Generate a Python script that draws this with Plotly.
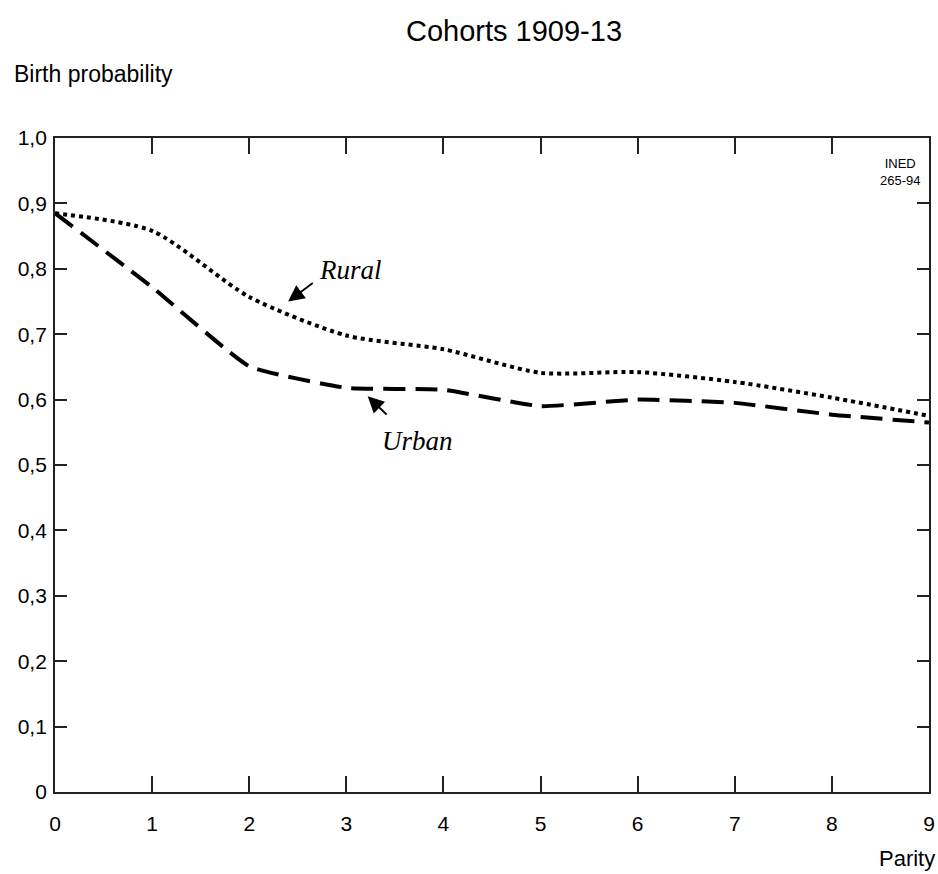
import plotly.graph_objects as go

parity = [0, 1, 2, 3, 4, 5, 6, 7, 8, 9]
rural = [0.885, 0.858, 0.757, 0.698, 0.677, 0.641, 0.642, 0.627, 0.603, 0.575]
urban = [0.885, 0.772, 0.651, 0.618, 0.615, 0.590, 0.600, 0.595, 0.577, 0.565]

y_ticks = [0, 0.1, 0.2, 0.3, 0.4, 0.5, 0.6, 0.7, 0.8, 0.9, 1.0]
y_labels = ["0", "0,1", "0,2", "0,3", "0,4", "0,5", "0,6", "0,7", "0,8", "0,9", "1,0"]
x_ticks = parity
x_labels = [str(p) for p in parity]

SANS = "Liberation Sans, Arial, sans-serif"
SERIF = "Liberation Serif, Times New Roman, serif"

fig = go.Figure()
fig.add_trace(go.Scatter(x=parity, y=rural, mode="lines", name="Rural",
                         line=dict(color="black", width=4, dash="4px,4px",
                                   shape="spline", smoothing=0.7)))
fig.add_trace(go.Scatter(x=parity, y=urban, mode="lines", name="Urban",
                         line=dict(color="black", width=4, dash="22px,10px",
                                   shape="spline", smoothing=0.4)))

font_tick = dict(family=SANS, size=21, color="black")

fig.update_layout(
    width=938, height=874,
    margin=dict(l=55, r=3, t=138, b=82),
    paper_bgcolor="white", plot_bgcolor="white",
    showlegend=False,
    xaxis=dict(range=[0, 9], tickvals=x_ticks, ticktext=x_labels,
               ticks="inside", ticklen=16, tickwidth=1.5, tickcolor="#222",
               showline=True, linecolor="#222", linewidth=1.8, mirror="ticks",
               showgrid=False, zeroline=False, tickfont=font_tick,
               ticklabelstandoff=12, ticklabeloverflow="allow"),
    yaxis=dict(range=[0, 1.0], tickvals=y_ticks, ticktext=y_labels,
               ticks="inside", ticklen=12, tickwidth=1.5, tickcolor="#222",
               showline=True, linecolor="#222", linewidth=1.8, mirror="ticks",
               showgrid=False, zeroline=False, tickfont=font_tick,
               ticklabelstandoff=2),
    annotations=[
        dict(text="Cohorts 1909-13", xref="paper", yref="paper", x=0.525, y=1.0,
             yshift=107, xanchor="center", yanchor="middle", showarrow=False,
             font=dict(family=SANS, size=29, color="black")),
        dict(text="Birth probability", xref="paper", yref="paper", x=-0.049, y=1.0,
             yshift=64, xanchor="left", yanchor="middle", showarrow=False,
             font=dict(family=SANS, size=23, color="black")),
        dict(text="Parity", xref="paper", yref="paper", x=1.0, y=0.0,
             xshift=8, yshift=-66, xanchor="right", yanchor="middle", showarrow=False,
             font=dict(family=SANS, size=22, color="black")),
        dict(text="INED<br>265-94", xref="paper", yref="paper", x=0.992, y=0.975,
             xanchor="right", yanchor="top", showarrow=False,
             font=dict(family="Liberation Sans Narrow, Arial Narrow, sans-serif", size=13, color="black")),
        dict(text="<i>Rural</i>", xref="x", yref="y", x=2.70, y=0.798,
             xanchor="left", yanchor="middle", showarrow=False,
             font=dict(family=SERIF, size=27, color="black")),
        dict(text="", xref="x", yref="y", x=2.40, y=0.750, ax=2.67, ay=0.780,
             axref="x", ayref="y", showarrow=True, arrowhead=2, arrowsize=1.8,
             arrowwidth=1.8, arrowcolor="black"),
        dict(text="<i>Urban</i>", xref="x", yref="y", x=3.35, y=0.536,
             xanchor="left", yanchor="middle", showarrow=False,
             font=dict(family=SERIF, size=27, color="black")),
        dict(text="", xref="x", yref="y", x=3.22, y=0.605, ax=3.43, ay=0.575,
             axref="x", ayref="y", showarrow=True, arrowhead=2, arrowsize=1.8,
             arrowwidth=1.8, arrowcolor="black"),
    ],
)

fig.write_html(
    "out.html",
    config={"displayModeBar": False},
    post_script="document.body.style.margin='0';document.body.style.overflow='hidden';",
)
